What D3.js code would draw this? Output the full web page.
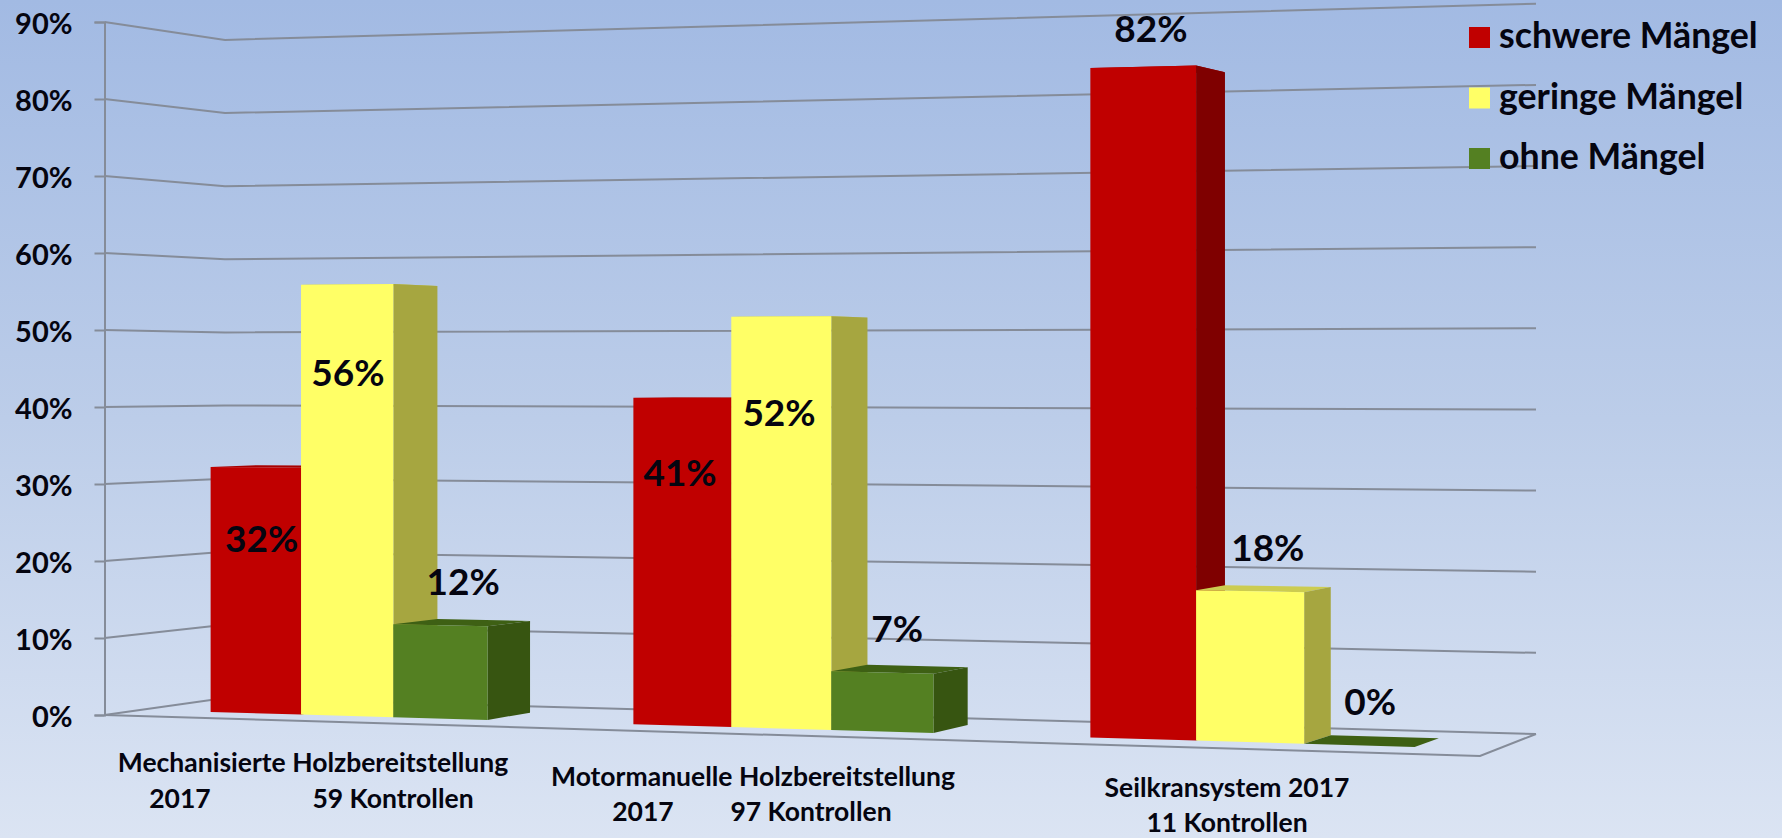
<!DOCTYPE html>
<html>
<head>
<meta charset="utf-8">
<title>Mängel Holzbereitstellung 2017</title>
<script src="https://cdn.jsdelivr.net/npm/d3@7"></script>
<style>
    html, body { margin: 0; padding: 0; overflow: hidden; }
    svg { display: block; }
    text { font-family: Lato, "Open Sans", sans-serif; font-weight: 700; fill: #050510; }
</style>
</head>
<body>
<script>
    // Data
    var categories = ["Mechanisierte", "Motormanuelle", "Seilkran"];
    var seriesNames = ["schwere Mängel", "geringe Mängel", "ohne Mängel"];
    var schwere = [32.1, 41.3, 81.7];
    var geringe = [55.9, 51.5, 18.2];
    var ohne = [12, 7.3, 0];
    var yTicks = [0, 10, 20, 30, 40, 50, 60, 70, 80, 90];
    var categoryLines = [
        ["Mechanisierte Holzbereitstellung", "2017", "59 Kontrollen"],
        ["Motormanuelle Holzbereitstellung", "2017", "97 Kontrollen"],
        ["Seilkransystem 2017", "11 Kontrollen"]
    ];

    function init() {
        var w = 1782;
        var h = 838;

        // Floor corners of the 3D box on screen: front left, front right, back right, back left
        var fl = [104.5, 715], fr = [1480, 756], br = [1536, 734], bl = [225, 698];

        // Perspective of the floor (unit square to the four corners)
        var sx = fl[0] - fr[0] + br[0] - bl[0];
        var sy = fl[1] - fr[1] + br[1] - bl[1];
        var dx1 = fr[0] - br[0], dx2 = bl[0] - br[0];
        var dy1 = fr[1] - br[1], dy2 = bl[1] - br[1];
        var den = dx1 * dy2 - dx2 * dy1;
        var g = (sx * dy2 - dx2 * sy) / den;
        var k = (dx1 * sy - sx * dy1) / den;
        var ax = fr[0] - fl[0] + g * fr[0], bx = bl[0] - fl[0] + k * bl[0];
        var ay = fr[1] - fl[1] + g * fr[1], by = bl[1] - fl[1] + k * bl[1];

        // Value scale on the front left edge, this is the drawn axis
        var yScale = d3.scaleLinear().domain([0, 90]).range([fl[1], 22]);

        // u along the width, d into the depth, v the value
        function project(u, d, v) {
            var q = 1 + g * u + k * d;
            var stretch = 1 - 0.104 * u + 0.053 * d;
            return [
                (ax * u + bx * d + fl[0]) / q,
                (ay * u + by * d + fl[1]) / q - (yScale(0) - yScale(v)) / stretch
            ];
        }

        // Bands along the width
        var xScale = d3.scaleBand().domain(categories).range([0.005, 1.005]);
        var innerScale = d3.scaleBand().domain(seriesNames)
            .range([0, xScale.bandwidth()])
            .paddingInner(0)
            .paddingOuter(0.72);
        var depthFront = 0.29, depthBack = 0.69;

        // The picture is not quite regular: shift and bar width factor per group
        var groupShift = [0, 0.005, 0.004];
        var groupWidth = [1, 0.985, 0.965];

        // Colors: front, side, top
        var colors = {
            "schwere Mängel": ["#c00000", "#7f0000", "#a80000"],
            "geringe Mängel": ["#ffff66", "#a6a640", "#cccc50"],
            "ohne Mängel": ["#548022", "#375511", "#3e6014"]
        };

        // Hand placed value labels, offset from the top middle of the bar front
        var labelOffsets = [
            [[6, 85], [1, 102], [23, -30]],
            [[-2, 88], [-2, 109], [15, -31]],
            [[8, -25], [18, -30], [11, -30]]
        ];

        var svg = d3.select("body")
                    .append("svg")
                    .attr("width", w)
                    .attr("height", h);

        // Background
        var grad = svg.append("defs").append("linearGradient")
                    .attr("id", "bg")
                    .attr("x1", 0).attr("y1", 0).attr("x2", 0).attr("y2", 1);
        grad.append("stop").attr("offset", "0%").attr("stop-color", "#a2bae3");
        grad.append("stop").attr("offset", "50%").attr("stop-color", "#bccde9");
        grad.append("stop").attr("offset", "100%").attr("stop-color", "#dbe4f3");
        svg.append("rect").attr("width", w).attr("height", h).attr("fill", "url(#bg)");

        // Grid lines on the left and the back wall
        var line = d3.line();
        svg.append("g").selectAll("path")
            .data(yTicks)
            .enter()
            .append("path")
            .attr("d", function(t) {
                return line([project(0, 0, t), project(0, 1, t), project(1, 1, t)]);
            })
            .attr("fill", "none")
            .attr("stroke", "#858c99")
            .attr("stroke-width", 2);

        // Floor front and right edge
        svg.append("path")
            .attr("d", line([project(0, 0, 0), project(1, 0, 0), project(1, 1, 0)]))
            .attr("fill", "none")
            .attr("stroke", "#858c99")
            .attr("stroke-width", 2);

        // Axis
        var yAxis = d3.axisLeft(yScale)
            .tickValues(yTicks)
            .tickSize(10)
            .tickPadding(22)
            .tickFormat(function(d) { return d + "%"; });
        var axisG = svg.append("g")
            .attr("transform", "translate(" + fl[0] + ",0)")
            .call(yAxis);
        axisG.selectAll("path, line").attr("stroke", "#858c99").attr("stroke-width", 2);
        axisG.selectAll("text").attr("font-size", 29).attr("dy", "0.4em").attr("fill", "#050510");

        // Bars
        var rows = [schwere, geringe, ohne];
        var bars = [];
        categories.forEach(function(c, ci) {
            seriesNames.forEach(function(s, si) {
                var start = xScale(c) + innerScale(seriesNames[0]) + groupShift[ci];
                var barW = innerScale.bandwidth() * groupWidth[ci];
                var u0 = start + si * barW;
                bars.push({
                    ci: ci,
                    si: si,
                    name: s,
                    value: rows[si][ci],
                    u0: u0,
                    u1: u0 + barW
                });
            });
        });

        var barG = svg.append("g").selectAll("g")
            .data(bars)
            .enter()
            .append("g");

        function poly(d, pts) {
            return line(pts.map(function(p) { return project(p[0], p[1], p[2]); })) + "Z";
        }

        barG.append("path")
            .attr("d", function(d) {
                return poly(d, [[d.u0, depthFront, d.value], [d.u1, depthFront, d.value],
                                [d.u1, depthBack, d.value], [d.u0, depthBack, d.value]]);
            })
            .attr("fill", function(d) { return colors[d.name][2]; });

        barG.append("path")
            .attr("d", function(d) {
                return poly(d, [[d.u1, depthFront, 0], [d.u1, depthBack, 0],
                                [d.u1, depthBack, d.value], [d.u1, depthFront, d.value]]);
            })
            .attr("fill", function(d) { return colors[d.name][1]; });

        barG.append("path")
            .attr("d", function(d) {
                return poly(d, [[d.u0, depthFront, 0], [d.u1, depthFront, 0],
                                [d.u1, depthFront, d.value], [d.u0, depthFront, d.value]]);
            })
            .attr("fill", function(d) { return colors[d.name][0]; });

        // Value labels
        svg.append("g").selectAll("text")
            .data(bars)
            .enter()
            .append("text")
            .attr("x", function(d) {
                return project((d.u0 + d.u1) / 2, depthFront, d.value)[0] + labelOffsets[d.ci][d.si][0];
            })
            .attr("y", function(d) {
                return project((d.u0 + d.u1) / 2, depthFront, d.value)[1] + labelOffsets[d.ci][d.si][1];
            })
            .attr("text-anchor", "middle")
            .attr("font-size", 37)
            .text(function(d) { return d3.format(".0f")(d.value) + "%"; });

        // Category labels, set by hand like in the original slide
        var categoryPlaces = [
            [[313, 772], [180, 808], [393, 808]],
            [[753, 786], [643, 821], [811, 821]],
            [[1227, 797], [1227, 832]]
        ];
        categoryLines.forEach(function(lines, ci) {
            lines.forEach(function(t, li) {
                svg.append("text")
                    .attr("x", categoryPlaces[ci][li][0])
                    .attr("y", categoryPlaces[ci][li][1])
                    .attr("text-anchor", "middle")
                    .attr("font-size", 26.5)
                    .text(t);
            });
        });

        // Legend
        var legendY = d3.scalePoint().domain(seriesNames).range([48, 169]);
        var legend = svg.append("g").selectAll("g")
            .data(seriesNames)
            .enter()
            .append("g");
        legend.append("rect")
            .attr("x", 1469)
            .attr("y", function(d) { return legendY(d) - 21; })
            .attr("width", 21)
            .attr("height", 21)
            .attr("fill", function(d) { return colors[d][0]; });
        legend.append("text")
            .attr("x", 1499)
            .attr("y", function(d) { return legendY(d); })
            .attr("font-size", 35.7)
            .text(function(d) { return d; });
    }

    window.onload = init;
</script>
</body>
</html>
